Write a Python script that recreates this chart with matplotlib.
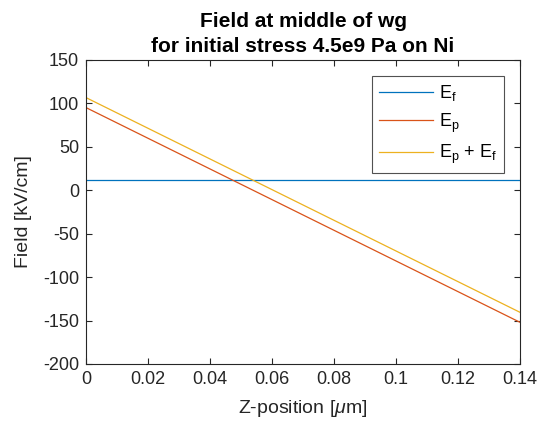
import matplotlib
matplotlib.use("Agg")
import matplotlib.pyplot as plt
import numpy as np

plt.rcParams['font.family'] = ['Liberation Sans', 'DejaVu Sans']
plt.rcParams['mathtext.fontset'] = 'custom'
plt.rcParams['mathtext.rm'] = 'Liberation Sans'
plt.rcParams['mathtext.it'] = 'Liberation Sans:italic'
plt.rcParams['axes.unicode_minus'] = False

# Data
z = np.array([0.0, 0.14])              # Z-position [um]
E_f = np.array([11.5, 11.5])           # kV/cm
E_p = np.array([95.2, -152.0])         # kV/cm
E_sum = E_p + E_f

xticks = [0, 0.02, 0.04, 0.06, 0.08, 0.1, 0.12, 0.14]
xticklabels = ['0', '0.02', '0.04', '0.06', '0.08', '0.1', '0.12', '0.14']
yticks = [-200, -150, -100, -50, 0, 50, 100, 150]

c_blue = '#0072BD'
c_red = '#D95319'
c_yel = '#EDB120'
axc = '#262626'

fig = plt.figure(figsize=(5.4, 4.28), dpi=100)
ax = fig.add_axes([86/540, 1-364/428, (520-86)/540, (364-60)/428])

ax.plot(z, E_f, color=c_blue, lw=0.9, label=r'E$_\mathrm{f}$')
ax.plot(z, E_p, color=c_red, lw=0.9, label=r'E$_\mathrm{p}$')
ax.plot(z, E_sum, color=c_yel, lw=0.9, label=r'E$_\mathrm{p}$ + E$_\mathrm{f}$')

ax.set_xlim(0, 0.14)
ax.set_ylim(-200, 150)
ax.set_xticks(xticks)
ax.set_xticklabels(xticklabels)
ax.set_yticks(yticks)

ax.tick_params(direction='in', length=4, width=0.8, colors=axc, labelsize=13,
               top=True, right=True, labelcolor=axc, pad=5)
for s in ax.spines.values():
    s.set_color(axc)
    s.set_linewidth(0.8)

ax.set_xlabel(r'Z-position [$\mu$m]', fontsize=14, color=axc, labelpad=7)
ax.set_ylabel('Field [kV/cm]', fontsize=14, color=axc, labelpad=8)
ax.set_title('Field at middle of wg\nfor initial stress 4.5e9 Pa on Ni',
             fontsize=15, fontweight='bold', color='black', pad=6, linespacing=1.4)

leg = ax.legend(loc='upper right', fontsize=13, frameon=True, fancybox=False,
                edgecolor=axc, handlelength=3.0, borderaxespad=0.9,
                labelspacing=0.45, handletextpad=0.3, borderpad=0.4)
leg.get_frame().set_linewidth(0.8)

fig.savefig('out.png', dpi=100)
